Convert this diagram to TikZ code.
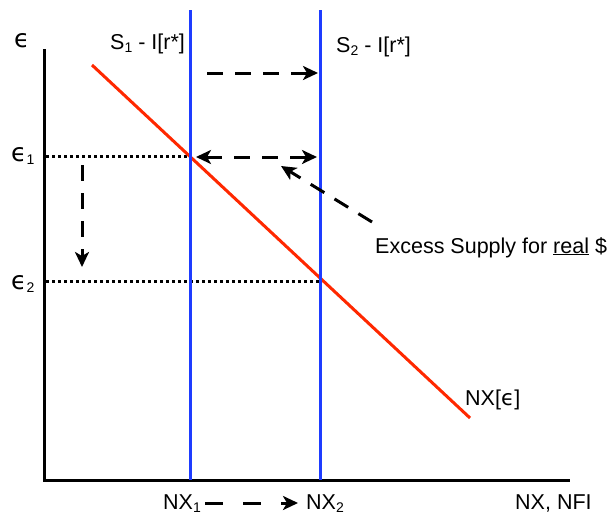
\documentclass[tikz,border=0pt]{standalone}
\usepackage{fontspec}
\setmainfont{Liberation Sans}
\newfontfamily\dvs{DejaVu Sans}
\usetikzlibrary{arrows.meta}
\definecolor{blueline}{RGB}{30,60,255}
\definecolor{redline}{RGB}{255,40,0}
\newcommand{\myeps}{{\dvs\fontsize{25}{25}\selectfont ϵ}}
\newcommand{\mysub}[1]{\raisebox{-0.3ex}{\fontsize{14}{14}\selectfont #1}}
\begin{document}
\begin{tikzpicture}[x=1pt,y=-1pt,font=\fontsize{21.5}{24}\selectfont,
  lbl/.style={anchor=base west,inner sep=0pt},
  axisline/.style={line width=3pt,black},
  supplyline/.style={line width=3pt,blueline},
  nxline/.style={line width=3pt,redline},
  dotline/.style={line width=3pt,black,dash pattern=on 3pt off 3pt},
  dasharrow/.style={line width=3pt,black,dash pattern=on 16pt off 12pt,
    -{Stealth[length=15pt,width=14pt,inset=4pt]}},
  dashdouble/.style={line width=3pt,black,dash pattern=on 16pt off 12pt,
    {Stealth[length=15pt,width=14pt,inset=4pt]}-{Stealth[length=15pt,width=14pt,inset=4pt]}}]
\useasboundingbox (0,0) rectangle (609,514);
% coordinates
\coordinate (O) at (44,480);
\coordinate (ytop) at (44,49);
\coordinate (xend) at (570,480);
\coordinate (s1t) at (190,10);
\coordinate (s1b) at (190,480);
\coordinate (s2t) at (320,10);
\coordinate (s2b) at (320,480);
\coordinate (nxa) at (92,65);
\coordinate (nxb) at (470,418);
\coordinate (e1l) at (46,156);
\coordinate (e1r) at (190,156);
\coordinate (e2l) at (46,281);
\coordinate (e2r) at (320,281);
\coordinate (topa) at (207,73);
\coordinate (topb) at (318,73);
\coordinate (mida) at (196,157);
\coordinate (midb) at (317,157);
\coordinate (diaga) at (372,222);
\coordinate (diagb) at (281,166);
\coordinate (vta) at (82,165);
\coordinate (vtb) at (82,267);
\coordinate (bta) at (205,503);
\coordinate (btb) at (298,503);
% axes
\draw[axisline] (ytop) -- (O) -- (xend);
% dotted guides
\draw[dotline] (e1l) -- (e1r);
\draw[dotline] (e2l) -- (e2r);
% curves
\draw[nxline] (nxa) -- (nxb);
\draw[supplyline] (s1t) -- (s1b);
\draw[supplyline] (s2t) -- (s2b);
% arrows
\draw[dasharrow] (topa) -- (topb);
\draw[dashdouble] (mida) -- (midb);
\draw[dasharrow] (diaga) -- (diagb);
\draw[dasharrow] (vta) -- (vtb);
% labels
\node[lbl] (eps) at (14,47) {\myeps};
\node[lbl] (eps1) at (11,161) {\myeps\mysub{1}};
\node[lbl] (eps2) at (11,289) {\myeps\mysub{2}};
\node[lbl] (s1lab) at (110,49) {S\mysub{1} - I[r*]};
\node[lbl] (s2lab) at (336,52) {S\mysub{2} - I[r*]};
\node[lbl] (nxlab) at (465,405) {NX[{\dvs ϵ}]};
\node[lbl] (excess) at (375,253) {Excess Supply for \underline{real} \$};
\node[lbl] (nx1) at (163,509) {NX\mysub{1}};
\node[lbl] (nx2) at (306,509) {NX\mysub{2}};
\node[lbl] (nxnfi) at (515,509) {NX, NFI};
\draw[line width=3pt,black,dash pattern=on 18pt off 20pt,
    -{Stealth[length=15pt,width=14pt,inset=4pt]}] (bta) -- (btb);
\end{tikzpicture}
\end{document}
